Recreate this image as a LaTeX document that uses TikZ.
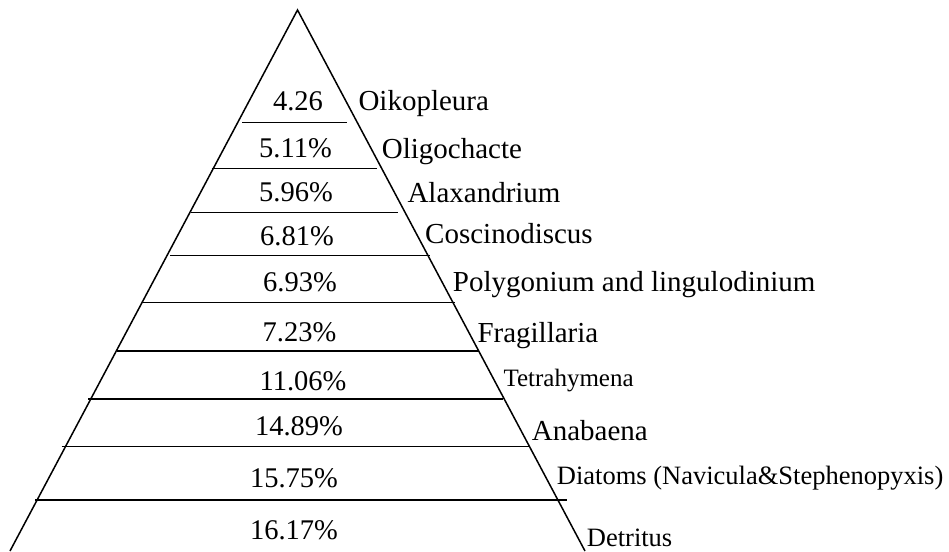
\documentclass[tikz,border=0pt]{standalone}
\usepackage{fontspec}
\setmainfont{Liberation Serif}
\begin{document}
\begin{tikzpicture}[x=1pt,y=-1pt,
  edge/.style={line width=1.5pt},
  pct/.style={anchor=base, inner sep=0pt, font=\fontsize{28.5}{30}\selectfont},
  lab/.style={anchor=base west, inner sep=0pt, font=\fontsize{29}{31}\selectfont},
  slab/.style={anchor=base west, inner sep=0pt, font=\fontsize{25}{27}\selectfont},
  mlab/.style={anchor=base west, inner sep=0pt, font=\fontsize{26.5}{28}\selectfont}]
\useasboundingbox (0,0) rectangle (949,551);
% triangle
\coordinate (A) at (297.5,10);
\coordinate (L) at (10,551);
\coordinate (R) at (585,551);
\draw[edge] (L) -- (A) -- (R);
% dividers
\coordinate (d1a) at (242.3,122.7); \coordinate (d1b) at (347.3,122.7);
\coordinate (d2a) at (211.7,168.3); \coordinate (d2b) at (376.7,168.3);
\coordinate (d3a) at (191,212.3);   \coordinate (d3b) at (398.3,212.3);
\coordinate (d4a) at (170,255.7);   \coordinate (d4b) at (430,255.7);
\coordinate (d5a) at (141.7,302.7); \coordinate (d5b) at (455,302.7);
\coordinate (d6a) at (116.7,351);   \coordinate (d6b) at (479.3,351);
\coordinate (d7a) at (88.3,399);    \coordinate (d7b) at (503.3,399);
\coordinate (d8a) at (61.7,446.7);  \coordinate (d8b) at (529.3,446.7);
\coordinate (d9a) at (35,500);      \coordinate (d9b) at (566.7,500);
\foreach \i in {1,...,9} { \draw[edge] (d\i a) -- (d\i b); }
% percentages
\node[pct] (p1) at (298,110) {4.26};
\node[pct] (p2) at (295.5,157) {5.11\%};
\node[pct] (p3) at (296,201.7) {5.96\%};
\node[pct] (p4) at (297,245) {6.81\%};
\node[pct] (p5) at (300,291.7) {6.93\%};
\node[pct] (p6) at (299.5,341.7) {7.23\%};
\node[pct] (p7) at (303,390) {11.06\%};
\node[pct] (p8) at (299,435) {14.89\%};
\node[pct] (p9) at (294,487.3) {15.75\%};
\node[pct] (p10) at (294,539.3) {16.17\%};
% labels
\node[lab] (n1) at (358.3,110) {Oikopleura};
\node[lab] (n2) at (381.7,158) {Oligochacte};
\node[lab] (n3) at (407.3,202) {Alaxandrium};
\node[lab] (n4) at (425,243) {Coscinodiscus};
\node[lab] (n5) at (452.7,291.7) {Polygonium and lingulodinium};
\node[lab] (n6) at (477.3,342) {Fragillaria};
\node[slab] (n7) at (503.3,386.7) {Tetrahymena};
\node[lab] (n8) at (531.7,440) {Anabaena};
\node[mlab] (n9) at (556.7,484) {Diatoms (Navicula\&Stephenopyxis)};
\node[mlab] (n10) at (586.7,546) {Detritus};
\end{tikzpicture}
\end{document}
